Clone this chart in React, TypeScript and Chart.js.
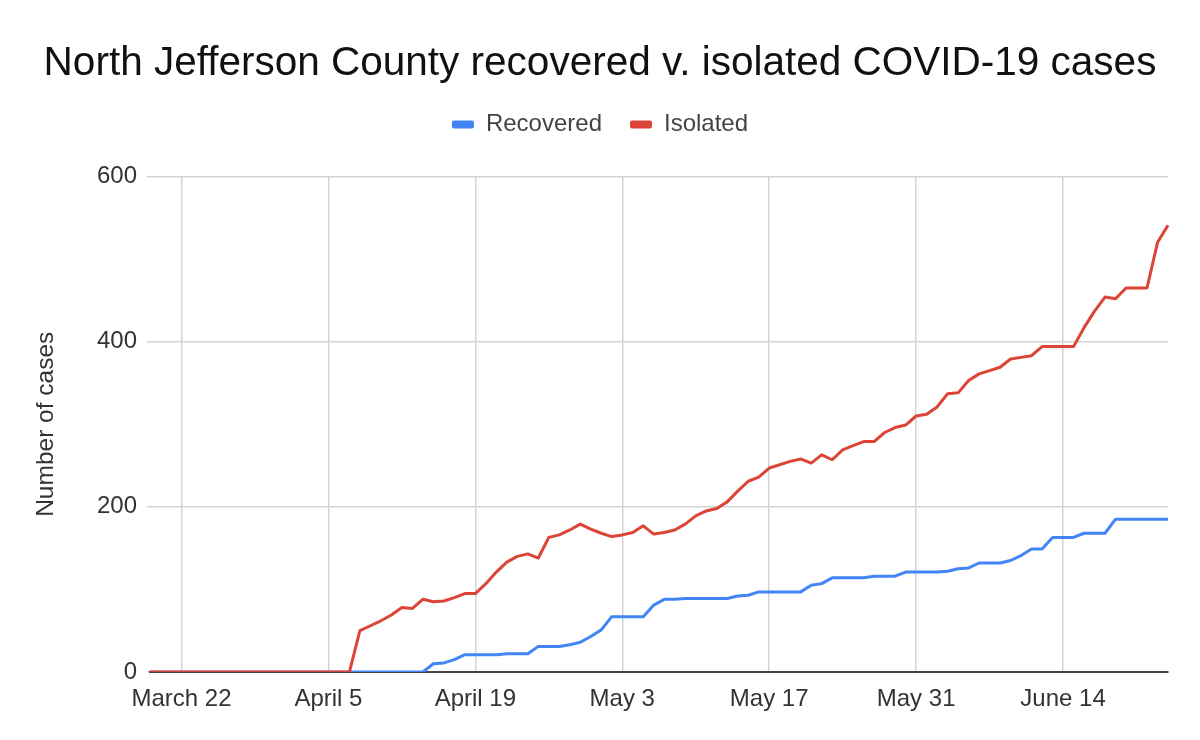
import React, { useEffect, useRef } from "react";
import { Chart, registerables } from "chart.js";

Chart.register(...registerables);

const TITLE = "North Jefferson County recovered v. isolated COVID-19 cases";
const Y_TITLE = "Number of cases";
const SERIES_NAMES = ["Recovered", "Isolated"];

const DATES = [
  "March 19", "March 20", "March 21", "March 22", "March 23", "March 24", "March 25", "March 26", "March 27", "March 28",
  "March 29", "March 30", "March 31", "April 1", "April 2", "April 3", "April 4", "April 5", "April 6", "April 7",
  "April 8", "April 9", "April 10", "April 11", "April 12", "April 13", "April 14", "April 15", "April 16", "April 17",
  "April 18", "April 19", "April 20", "April 21", "April 22", "April 23", "April 24", "April 25", "April 26", "April 27",
  "April 28", "April 29", "April 30", "May 1", "May 2", "May 3", "May 4", "May 5", "May 6", "May 7",
  "May 8", "May 9", "May 10", "May 11", "May 12", "May 13", "May 14", "May 15", "May 16", "May 17",
  "May 18", "May 19", "May 20", "May 21", "May 22", "May 23", "May 24", "May 25", "May 26", "May 27",
  "May 28", "May 29", "May 30", "May 31", "June 1", "June 2", "June 3", "June 4", "June 5", "June 6",
  "June 7", "June 8", "June 9", "June 10", "June 11", "June 12", "June 13", "June 14", "June 15", "June 16",
  "June 17", "June 18", "June 19", "June 20", "June 21", "June 22", "June 23", "June 24",
];

const TICK_LABELS = ["March 22", "April 5", "April 19", "May 3", "May 17", "May 31", "June 14"];

const RECOVERED = [
  0, 0, 0, 0, 0, 0, 0, 0, 0, 0,
  0, 0, 0, 0, 0, 0, 0, 0, 0, 0,
  0, 0, 0, 0, 0, 0, 0, 10, 11, 15,
  21, 21, 21, 21, 22, 22, 22, 31, 31, 31,
  33, 36, 43, 51, 67, 67, 67, 67, 81, 88,
  88, 89, 89, 89, 89, 89, 92, 93, 97, 97,
  97, 97, 97, 105, 107, 114, 114, 114, 114, 116,
  116, 116, 121, 121, 121, 121, 122, 125, 126, 132,
  132, 132, 135, 141, 149, 149, 163, 163, 163, 168,
  168, 168, 185, 185, 185, 185, 185, 185,
];

const ISOLATED = [
  0, 0, 0, 0, 0, 0, 0, 0, 0, 0,
  0, 0, 0, 0, 0, 0, 0, 0, 0, 0,
  50, 56, 62, 69, 78, 77, 88, 85, 86, 90,
  95, 95, 107, 121, 133, 140, 143, 138, 163, 166,
  172, 179, 173, 168, 164, 166, 169, 177, 167, 169,
  172, 179, 189, 195, 198, 206, 219, 231, 236, 247,
  251, 255, 258, 253, 263, 257, 269, 274, 279, 279,
  290, 296, 299, 310, 312, 321, 337, 338, 353, 361,
  365, 369, 379, 381, 383, 394, 394, 394, 394, 417,
  437, 454, 452, 465, 465, 465, 520, 541,
];

const Y_MIN = 0;
const Y_MAX = 600;
const Y_STEP = 200;

const BLUE = "#4285F4";
const RED = "#DB4437";
const FONT = "'Liberation Sans', Arial, sans-serif";

export default function App() {
  const ref = useRef<HTMLCanvasElement>(null);

  useEffect(() => {
    if (!ref.current) return;
    const chart = new Chart(ref.current, {
      type: "line",
      data: {
        labels: DATES,
        datasets: [
          {
            label: SERIES_NAMES[0],
            data: RECOVERED,
            borderColor: BLUE,
            backgroundColor: BLUE,
            borderWidth: 3,
            pointRadius: 0,
            tension: 0,
            borderJoinStyle: "round",
            order: 1,
          },
          {
            label: SERIES_NAMES[1],
            data: ISOLATED,
            borderColor: RED,
            backgroundColor: RED,
            borderWidth: 3,
            pointRadius: 0,
            tension: 0,
            borderJoinStyle: "round",
            order: 0,
          },
        ],
      },
      options: {
        responsive: false,
        animation: false,
        layout: { padding: { left: 32, right: 32, top: 0, bottom: 0 } },
        plugins: {
          title: {
            display: true,
            text: TITLE,
            color: "#111",
            font: { family: FONT, size: 40.5, weight: "normal", lineHeight: 1 },
            padding: { top: 44, bottom: 0 },
          },
          legend: {
            display: true,
            position: "top",
            labels: {
              font: { family: FONT, size: 24 },
              color: "#444",
              boxWidth: 22,
              boxHeight: 8,
              padding: 28,
              useBorderRadius: true,
              borderRadius: 2,
              sort: (a: any, b: any) => a.datasetIndex - b.datasetIndex,
              generateLabels: (c: any) =>
                (Chart.defaults.plugins.legend.labels.generateLabels as any)(c).map((l: any) => ({
                  ...l,
                  lineWidth: 0,
                })),
            },
          },
          subtitle: {
            display: true,
            text: "",
            position: "top",
            weight: 500,
            font: { size: 10, lineHeight: 1 },
            padding: { top: 10, bottom: 10 },
          } as any,
          tooltip: { enabled: false },
        },
        scales: {
          x: {
            type: "category",
            grid: { color: "#d3d3d3", lineWidth: 1.5, drawTicks: false },
            border: { display: true, color: "#444", width: 2 },
            ticks: {
              autoSkip: false,
              maxRotation: 0,
              minRotation: 0,
              padding: 13,
              color: "#333",
              font: { family: FONT, size: 24 },
              callback: (_v: any, i: number) => (TICK_LABELS.includes(DATES[i]) ? DATES[i] : null),
            },
            afterFit: (s: any) => {
              s.height = 68;
            },
          },
          y: {
            min: Y_MIN,
            max: Y_MAX,
            grid: { color: "#d3d3d3", lineWidth: 1.5, drawTicks: true, tickLength: 3 },
            border: { display: false },
            ticks: {
              stepSize: Y_STEP,
              padding: 10,
              color: "#333",
              font: { family: FONT, size: 24 },
            },
            title: {
              display: true,
              text: Y_TITLE,
              color: "#333",
              font: { family: FONT, size: 24.5 },
              padding: { top: 0, bottom: 0 },
            },
            afterFit: (s: any) => {
              s.width = 118;
            },
          },
        },
      },
    });
    return () => chart.destroy();
  }, []);

  return (
    <div style={{ position: "fixed", left: 0, top: 0, width: 1200, height: 740, background: "#fff" }}>
      <canvas ref={ref} width={1200} height={740} style={{ display: "block" }} />
    </div>
  );
}
